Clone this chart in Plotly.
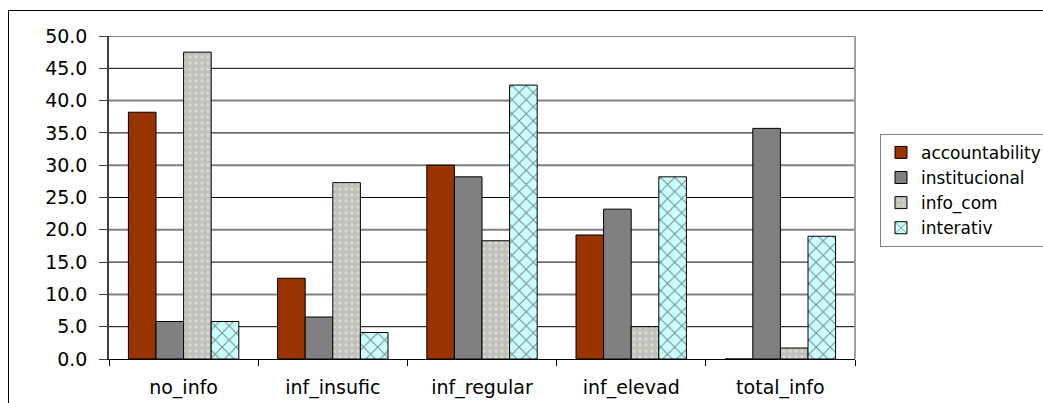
import plotly.graph_objects as go

# Categories and series values (percent)
categories = ["no_info", "inf_insufic", "inf_regular", "inf_elevad", "total_info"]
accountability = [38.2, 12.5, 30.0, 19.2, 0.0]
institucional = [5.8, 6.5, 28.2, 23.2, 35.7]
info_com = [47.5, 27.3, 18.3, 5.0, 1.7]
interativ = [5.8, 4.1, 42.4, 28.2, 19.0]
y_ticks = [0, 5, 10, 15, 20, 25, 30, 35, 40, 45, 50]
grid_major = [10, 20, 30, 40, 50]
grid_minor = [5, 15, 25, 35, 45]

FONT = "DejaVu Sans"

fig = go.Figure()
fig.add_trace(go.Bar(
    name="accountability", x=categories, y=accountability,
    marker=dict(color="#993300", line=dict(color="black", width=1)),
))
fig.add_trace(go.Bar(
    name="institucional", x=categories, y=institucional,
    marker=dict(color="#808080", line=dict(color="black", width=1)),
))
fig.add_trace(go.Bar(
    name="info_com", x=categories, y=info_com,
    marker=dict(color="#C0C0C0", line=dict(color="black", width=1),
                pattern=dict(shape=".", fgcolor="#F4F4C8", bgcolor="#C0C0C0",
                             size=6, solidity=0.25)),
))
fig.add_trace(go.Bar(
    name="interativ", x=categories, y=interativ,
    marker=dict(color="#CCFFFF", line=dict(color="black", width=1),
                pattern=dict(shape="x", fgcolor="#1a1a1a", bgcolor="#CCFFFF",
                             size=10, solidity=0.2)),
))

# Horizontal gridlines: grey at every 10, thin black in between
for v in grid_major:
    fig.add_hline(y=v, line=dict(color="#808080", width=2), layer="below")
for v in grid_minor:
    fig.add_hline(y=v, line=dict(color="black", width=1), layer="below")

# Outer chart frame and right border of the plot area
fig.add_shape(type="rect", xref="paper", yref="paper",
              x0=-0.1347, x1=1.26, y0=-0.25, y1=1.0789,
              line=dict(color="black", width=1), layer="below")
fig.add_shape(type="line", xref="paper", yref="paper",
              x0=1, x1=1, y0=0, y1=1,
              line=dict(color="#A0A0A0", width=2))

fig.update_layout(
    width=1043, height=403,
    margin=dict(l=109, r=188, t=36, b=44, autoexpand=False),
    paper_bgcolor="white", plot_bgcolor="white",
    barmode="group", bargap=0.26, bargroupgap=0,
    font=dict(family=FONT, color="black"),
    showlegend=True,
    legend=dict(
        x=1.0335, y=0.697, xanchor="left", yanchor="top",
        bordercolor="#808080", borderwidth=1,
        font=dict(family=FONT, size=17, color="black"),
        tracegroupgap=4, itemwidth=30,
    ),
    xaxis=dict(
        showline=True, linecolor="black", linewidth=1,
        ticks="outside", tickson="boundaries", ticklen=6, tickcolor="black",
        tickfont=dict(family=FONT, size=19, color="black"),
        ticklabelstandoff=11,
    ),
    yaxis=dict(
        range=[0, 50], tickvals=y_ticks, tickformat=".1f",
        showline=True, linecolor="#404040", linewidth=1.5,
        ticks="outside", ticklen=8, tickcolor="#404040",
        showgrid=False, zeroline=False,
        tickfont=dict(family=FONT, size=19, color="black"),
        ticklabelstandoff=8,
    ),
)

fig.write_html("out.html")
